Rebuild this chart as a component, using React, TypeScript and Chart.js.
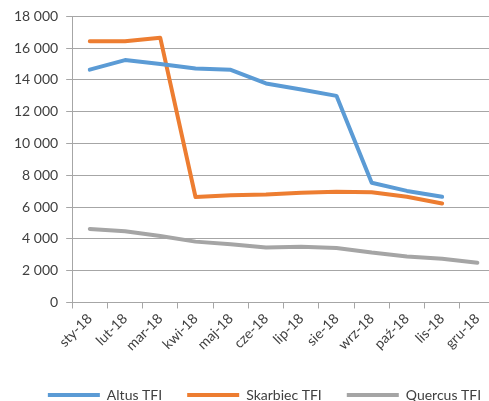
import React, { useEffect, useRef } from "react";
import { Chart, registerables } from "chart.js";

Chart.register(...registerables);

const categories = ["sty-18", "lut-18", "mar-18", "kwi-18", "maj-18", "cze-18", "lip-18", "sie-18", "wrz-18", "paź-18", "lis-18", "gru-18"];
const altus = [14650, 15250, 15000, 14720, 14640, 13780, 13400, 13000, 7530, 7020, 6650, null];
const skarbiec = [16430, 16430, 16650, 6640, 6750, 6800, 6900, 6970, 6930, 6650, 6230, null];
const quercus = [4630, 4480, 4180, 3830, 3670, 3460, 3500, 3430, 3140, 2900, 2750, 2500];
const yTicks = [0, 2000, 4000, 6000, 8000, 10000, 12000, 14000, 16000, 18000];

const fmt = (v: number) => String(v).replace(/\B(?=(\d{3})+(?!\d))/g, " ");

const shiftLegend = {
  id: "shiftLegend",
  afterLayout(chart: any) {
    const lg = chart.legend;
    if (!lg) return;
    lg.left += 14;
    lg.right += 14;
    lg.top += 7;
    lg.bottom += 7;
  },
};

export default function App() {
  const ref = useRef<HTMLCanvasElement>(null);
  useEffect(() => {
    if (!ref.current) return;
    const font = { family: "Lato", size: 14 };
    const mk = (label: string, data: (number | null)[], color: string) => ({
      label,
      data,
      borderColor: color,
      backgroundColor: color,
      borderWidth: 4,
      borderCapStyle: "round" as const,
      borderJoinStyle: "round" as const,
      pointRadius: 0,
      tension: 0,
      spanGaps: false,
    });
    const chart = new Chart(ref.current, {
      type: "line",
      data: {
        labels: categories,
        datasets: [
          mk("Altus TFI", altus, "#5B9BD5"),
          mk("Skarbiec TFI", skarbiec, "#ED7D31"),
          mk("Quercus TFI", quercus, "#A5A5A5"),
        ],
      },
      plugins: [shiftLegend],
      options: {
        animation: false,
        responsive: true,
        maintainAspectRatio: false,
        layout: { padding: { left: 6, top: 11, right: 0, bottom: -4 } },
        plugins: {
          tooltip: { enabled: false },
          legend: {
            position: "bottom",
            labels: {
              font,
              color: "#404040",
              usePointStyle: true,
              pointStyle: "line",
              pointStyleWidth: 52,
              boxHeight: 14,
              padding: 25,
            },
          },
        },
        scales: {
          x: {
            offset: true,
            grid: {
              offset: true,
              drawOnChartArea: false,
              drawTicks: true,
              tickLength: 6,
              color: "#A6A6A6",
            },
            border: { color: "#A6A6A6", width: 1 },
            ticks: {
              font,
              color: "#404040",
              minRotation: 45,
              maxRotation: 45,
              autoSkip: false,
              padding: 2,
            },
          },
          y: {
            min: 0,
            max: 18000,
            afterBuildTicks: (axis: any) => {
              axis.ticks = yTicks.map((v) => ({ value: v }));
            },
            grid: { color: "#A6A6A6", tickLength: 6 },
            border: { color: "#A6A6A6", width: 1 },
            ticks: {
              font,
              color: "#404040",
              padding: 8,
              callback: (v: any) => fmt(Number(v)),
            },
          },
        },
      },
    });
    return () => chart.destroy();
  }, []);
  return (
    <div style={{ position: "fixed", left: 0, top: 0, width: 489, height: 401, overflow: "hidden", background: "#fff" }}>
      <div style={{ position: "absolute", left: 0, top: 0, width: 495, height: 401 }}>
        <canvas ref={ref} />
      </div>
    </div>
  );
}
